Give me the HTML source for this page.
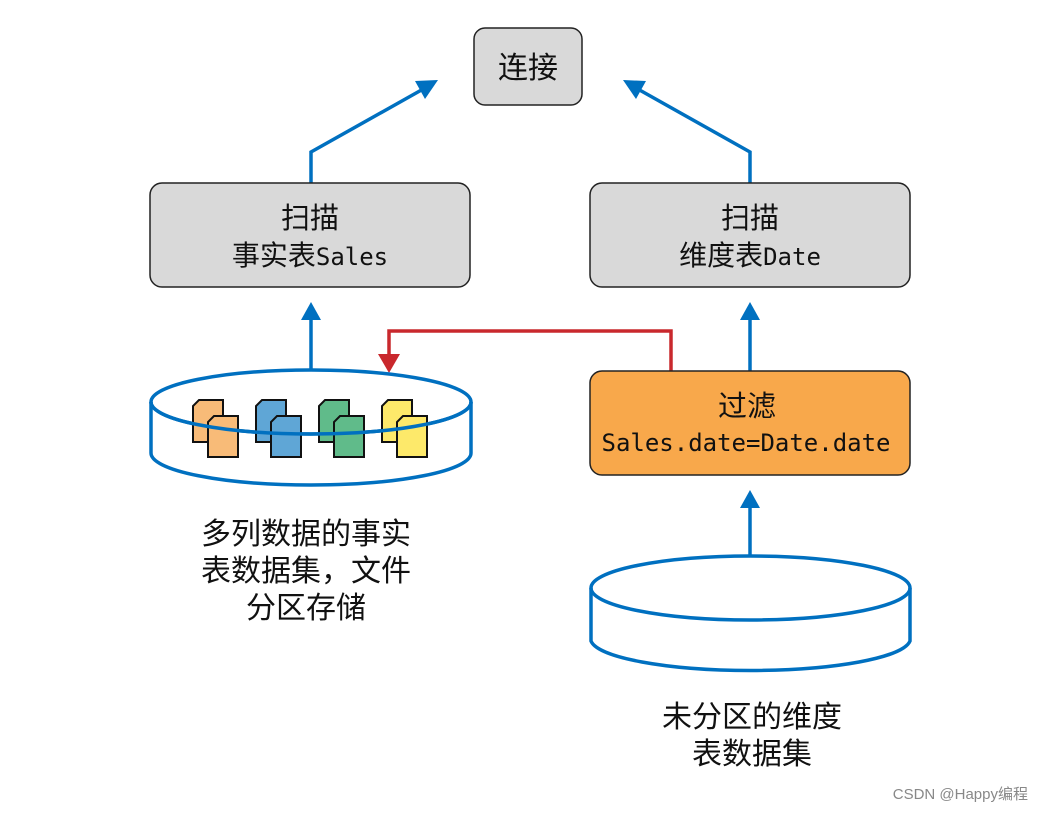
<!DOCTYPE html>
<html><head><meta charset="utf-8"><style>
html,body{margin:0;padding:0;background:#fff;}
text{font-family:"Liberation Sans","Noto Sans CJK SC",sans-serif;fill:#111;}
.m{font-family:"DejaVu Sans Mono","Liberation Mono","Noto Sans CJK SC",monospace;}
</style></head><body>
<svg width="1044" height="811" viewBox="0 0 1044 811" xmlns="http://www.w3.org/2000/svg">
<g stroke="#0070c0" stroke-width="3.5" fill="none">
<polyline points="311,183 311,152 425,88"/>
<polygon points="438,80 415,81 425,99" fill="#0070c0" stroke="none"/>
<polyline points="750,183 750,152 636,88"/>
<polygon points="623,80 646,81 636,99" fill="#0070c0" stroke="none"/>
<line x1="311" y1="370" x2="311" y2="318"/>
<polygon points="311,302 301,320 321,320" fill="#0070c0" stroke="none"/>
<line x1="750" y1="371" x2="750" y2="318"/>
<polygon points="750,302 740,320 760,320" fill="#0070c0" stroke="none"/>
<line x1="750" y1="556" x2="750" y2="506"/>
<polygon points="750,490 740,508 760,508" fill="#0070c0" stroke="none"/>
</g>
<polyline points="671,371 671,331 389,331 389,356" stroke="#c9282d" stroke-width="3.5" fill="none"/>
<polygon points="389,373 378,354 400,354" fill="#c9282d"/>
<rect x="474" y="28" width="108" height="77" rx="11" fill="#d9d9d9" stroke="#222" stroke-width="1.5"/>
<text x="528" y="78" font-size="30" text-anchor="middle">连接</text>
<rect x="150" y="183" width="320" height="104" rx="12" fill="#d9d9d9" stroke="#222" stroke-width="1.5"/>
<text x="310" y="228" font-size="29" text-anchor="middle">扫描</text>
<text x="310" y="265" font-size="28" text-anchor="middle">事实表<tspan class="m" font-size="24">Sales</tspan></text>
<rect x="590" y="183" width="320" height="104" rx="12" fill="#d9d9d9" stroke="#222" stroke-width="1.5"/>
<text x="750" y="228" font-size="29" text-anchor="middle">扫描</text>
<text x="750" y="265" font-size="28" text-anchor="middle">维度表<tspan class="m" font-size="24">Date</tspan></text>
<rect x="590" y="371" width="320" height="104" rx="12" fill="#f8a84b" stroke="#222" stroke-width="1.5"/>
<text x="747" y="416" font-size="29" text-anchor="middle">过滤</text>
<text x="746" y="451" class="m" font-size="24" text-anchor="middle">Sales.date=Date.date</text>
<g stroke="#0070c0" stroke-width="3.5" fill="none">
<path d="M151,402 L151,453 A160,32 0 0 0 471,453 L471,402"/>
<ellipse cx="311" cy="402" rx="160" ry="32"/>
</g>
<g stroke="#111" stroke-width="2">
<g fill="#f8bb78"><path d="M199,400 H223 V442 H193 V406Z"/><path d="M214,416 H238 V457 H208 V422Z"/></g>
<g fill="#5fa6d6"><path d="M262,400 H286 V442 H256 V406Z"/><path d="M277,416 H301 V457 H271 V422Z"/></g>
<g fill="#60bb8a"><path d="M325,400 H349 V442 H319 V406Z"/><path d="M340,416 H364 V457 H334 V422Z"/></g>
<g fill="#fde96a"><path d="M388,400 H412 V442 H382 V406Z"/><path d="M403,416 H427 V457 H397 V422Z"/></g>
</g>
<path d="M151,402 A160,32 0 0 0 471,402" stroke="#0070c0" stroke-width="3.5" fill="none"/>
<g stroke="#0070c0" stroke-width="3.5" fill="none">
<path d="M591,588 L591,641 A160,32 0 0 0 910,641 L910,588"/>
<ellipse cx="750.5" cy="588" rx="159.5" ry="32"/>
</g>
<g font-size="30" text-anchor="middle">
<text x="306" y="544">多列数据的事实</text>
<text x="306" y="581">表数据集，文件</text>
<text x="306" y="618">分区存储</text>
<text x="752" y="727">未分区的维度</text>
<text x="752" y="764">表数据集</text>
</g>
<text x="1028" y="799" font-size="15" text-anchor="end" style="fill:#888">CSDN @Happy编程</text>
</svg>
</body></html>
